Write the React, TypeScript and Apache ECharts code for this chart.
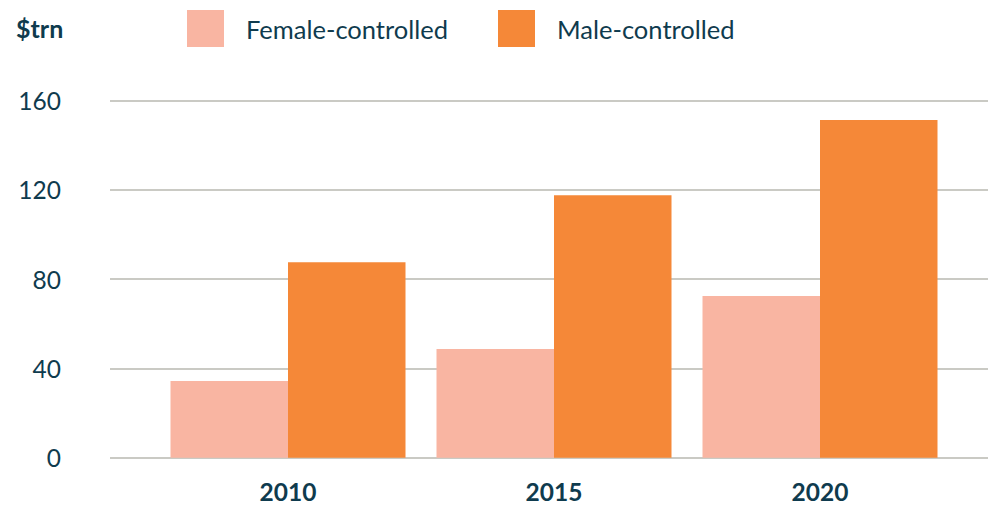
import React, { useEffect, useRef } from "react";
import * as echarts from "echarts";

const categories = ["2010", "2015", "2020"];
const femaleValues = [34.4, 48.7, 72.5];
const maleValues = [87.6, 117.6, 151.4];
const yTicks = [0, 40, 80, 120, 160];

const TEXT = "#0F3B4E";
const FEMALE = "#F9B5A2";
const MALE = "#F58838";
const FONT = "Lato, 'Open Sans', sans-serif";

export default function App() {
  const ref = useRef<HTMLDivElement>(null);
  useEffect(() => {
    document.body.style.margin = "0";
    const chart = echarts.init(ref.current!, null, { renderer: "svg" });
    const top = 100.7;
    const bottom = 506 - 457.7;
    const legendText = { color: TEXT, fontSize: 25.5, fontFamily: FONT, padding: [0, 0, 0, 17] };
    chart.setOption({
      animation: false,
      textStyle: { fontFamily: FONT },
      title: {
        text: "$trn",
        left: 16,
        top: 15,
        padding: 0,
        textStyle: { color: TEXT, fontSize: 25, fontWeight: "bold", fontFamily: FONT },
      },
      legend: [
        {
          left: 187,
          top: 10,
          padding: 0,
          itemWidth: 37,
          itemHeight: 37,
          itemGap: 0,
          icon: "rect",
          data: ["Female-controlled"],
          textStyle: legendText,
          selectedMode: false,
        },
        {
          left: 498,
          top: 10,
          padding: 0,
          itemWidth: 37,
          itemHeight: 37,
          itemGap: 0,
          icon: "rect",
          data: ["Male-controlled"],
          textStyle: legendText,
          selectedMode: false,
        },
      ],
      grid: [
        { left: 110, right: 0, top, bottom },
        { left: 155, right: 35, top, bottom },
      ],
      xAxis: [
        { type: "value", gridIndex: 0, show: false, min: 0, max: 1 },
        {
          type: "category",
          gridIndex: 1,
          data: categories,
          axisLine: { show: false },
          axisTick: { show: false },
          axisLabel: { color: TEXT, fontSize: 24.5, fontWeight: "bold", fontFamily: FONT, margin: 21 },
        },
      ],
      yAxis: [
        {
          type: "value",
          gridIndex: 0,
          min: yTicks[0],
          max: yTicks[yTicks.length - 1],
          interval: 40,
          axisLine: { show: false },
          axisTick: { show: false },
          axisLabel: { color: TEXT, fontSize: 24.5, fontFamily: FONT, margin: 49 },
          splitLine: { lineStyle: { color: "#B9B9B0", width: 1.5 } },
        },
        {
          type: "value",
          gridIndex: 1,
          min: yTicks[0],
          max: yTicks[yTicks.length - 1],
          interval: 40,
          show: false,
          splitLine: { show: false },
        },
      ],
      series: [
        {
          name: "Female-controlled",
          type: "bar",
          xAxisIndex: 1,
          yAxisIndex: 1,
          data: femaleValues,
          barWidth: 117.5,
          barGap: "0%",
          itemStyle: { color: FEMALE },
        },
        {
          name: "Male-controlled",
          type: "bar",
          xAxisIndex: 1,
          yAxisIndex: 1,
          data: maleValues,
          barWidth: 117.5,
          barGap: "0%",
          itemStyle: { color: MALE },
        },
      ],
    });
    return () => chart.dispose();
  }, []);
  return <div ref={ref} style={{ width: 988, height: 506 }} />;
}
